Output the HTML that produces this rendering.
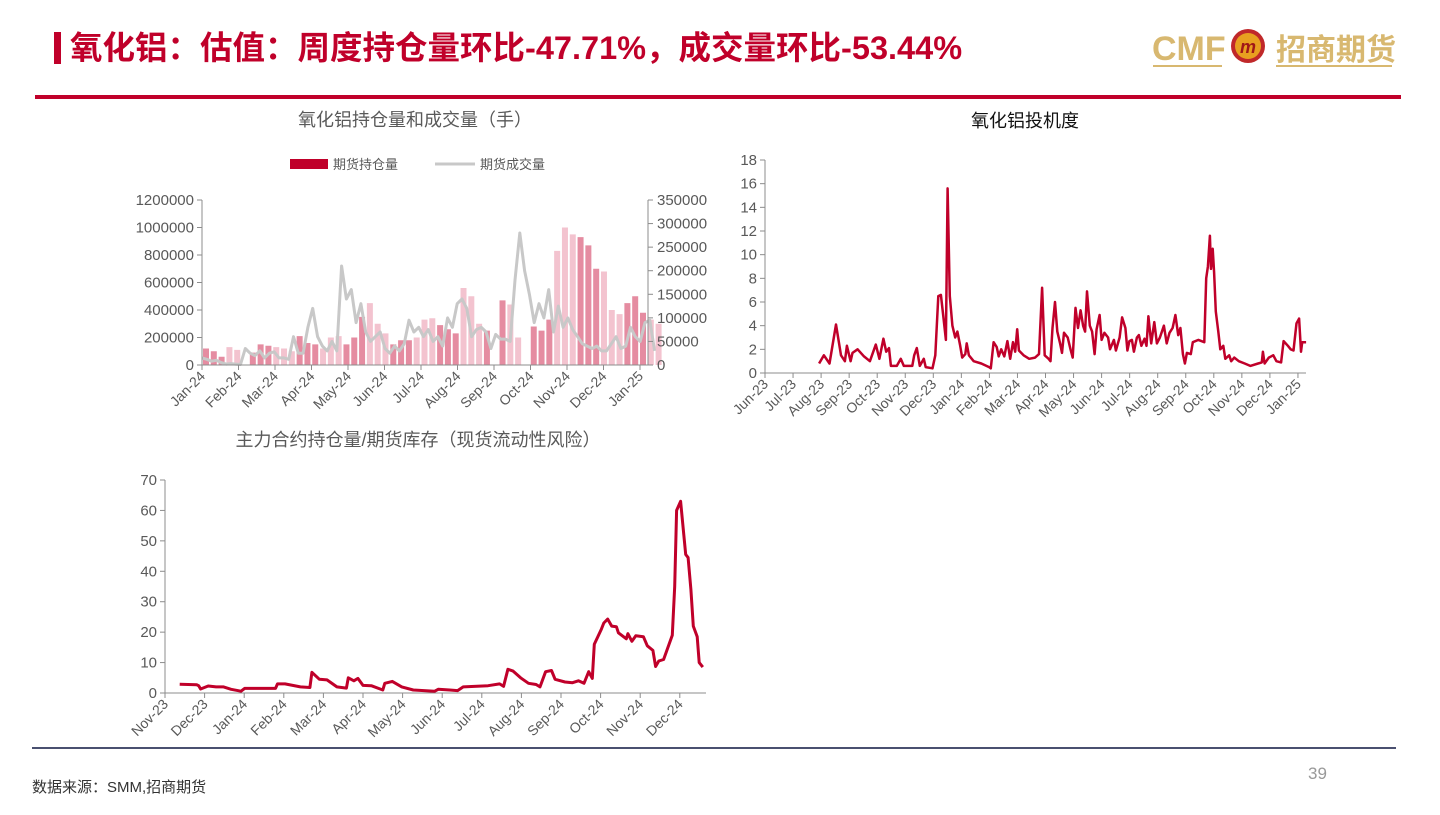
<!DOCTYPE html>
<html><head><meta charset="utf-8">
<style>
html,body{margin:0;padding:0;background:#fff;}
body{width:1440px;height:810px;overflow:hidden;position:relative;font-family:"Liberation Sans","Noto Sans CJK SC",sans-serif;}
svg text{font-family:"Liberation Sans","Noto Sans CJK SC",sans-serif;}
</style></head>
<body>
<svg id="page" width="1440" height="810" viewBox="0 0 1440 810" xmlns="http://www.w3.org/2000/svg">
  <rect x="54" y="32" width="7" height="32" fill="#c0002a"/>
  <text x="70" y="59" font-size="32.5" font-weight="bold" fill="#c0002a">氧化铝：估值：周度持仓量环比-47.71%，成交量环比-53.44%</text>
  <g>
    <text x="1152" y="60" font-size="34" font-weight="bold" fill="#d8b870">CMF</text>
    <line x1="1153" y1="66" x2="1222" y2="66" stroke="#d8b870" stroke-width="2"/>
    <circle cx="1248" cy="46" r="17" fill="#c0282a"/>
    <circle cx="1248" cy="46" r="13" fill="#e8a020"/>
    <text x="1248" y="53" font-size="18" font-weight="bold" fill="#a01818" text-anchor="middle" font-style="italic">m</text>
    <text x="1276" y="60" font-size="30" font-weight="bold" fill="#d8b870" font-family="'Noto Serif CJK SC',serif">招商期货</text>
    <line x1="1276" y1="66" x2="1392" y2="66" stroke="#d8b870" stroke-width="2"/>
  </g>
  <rect x="35" y="95" width="1366" height="4" fill="#c0002a"/>
  <rect x="32" y="747" width="1364" height="2" fill="#4a5070"/>
  <text x="32" y="792" font-size="15" fill="#333" font-family="'Noto Serif CJK SC',serif">数据来源：SMM,招商期货</text>
  <text x="1308" y="779" font-size="17" fill="#999">39</text>

  <text x="415" y="126" font-size="18" fill="#595959" text-anchor="middle">氧化铝持仓量和成交量（手）</text>
  <g>
    <rect x="290" y="159" width="38" height="10" fill="#c0002a"/>
    <text x="333" y="169" font-size="13" fill="#595959" font-family="'Noto Serif CJK SC',serif">期货持仓量</text>
    <line x1="435" y1="164" x2="475" y2="164" stroke="#c8c8c8" stroke-width="3"/>
    <text x="480" y="169" font-size="13" fill="#595959" font-family="'Noto Serif CJK SC',serif">期货成交量</text>
  </g>
  <g id="c1"></g>

  <text x="1025" y="127" font-size="18" fill="#111" text-anchor="middle">氧化铝投机度</text>
  <g id="c2"></g>

  <text x="418" y="446" font-size="18" fill="#595959" text-anchor="middle">主力合约持仓量/期货库存（现货流动性风险）</text>
  <g id="c3"></g>
</svg>
<script>
// ---------- Chart 1 data ----------
const c1Months = ["Jan-24","Feb-24","Mar-24","Apr-24","May-24","Jun-24","Jul-24","Aug-24","Sep-24","Oct-24","Nov-24","Dec-24","Jan-25"];
const c1LeftTicks = [0,200000,400000,600000,800000,1000000,1200000];
const c1RightTicks = [0,50000,100000,150000,200000,250000,300000,350000];
const c1Holdings = [120000,100000,60000,130000,110000, 0,90000,150000,140000, 130000,120000,100000,210000,160000,
  150000,120000,200000,210000, 150000,200000,350000,450000,300000, 230000,150000,180000,180000,
  200000,330000,340000,290000,260000, 230000,560000,500000,300000, 250000,0,470000,440000,200000,
  0,280000,250000,330000,830000, 1000000,950000,930000,870000, 700000,680000,400000,370000,450000,
  500000,380000,330000,300000];
const c1Volume = [15000,12000,8000,10000,5000,2000, 3000,2000,1000,35000,25000,
  20000,30000,15000,25000,28000,15000, 15000,12000,60000,25000,25000,
  80000,120000,60000,40000,30000,50000, 30000,210000,140000,160000,90000,130000,70000,
  50000,60000,70000,35000,25000,40000,30000, 45000,95000,70000,80000,60000,75000,50000,
  60000,40000,100000,80000,130000,140000,120000,60000, 75000,80000,70000,35000,65000,55000,55000,
  50000,180000,280000,200000,150000, 90000,130000,100000,160000,70000,125000,
  80000,100000,75000,60000,45000,40000,35000, 40000,30000,30000,45000,60000,35000,40000,
  80000,60000,50000,90000,95000,30000];
const c1Span = 12.4; // months covered by daily series

// ---------- Chart 2 data ----------
const c2Months = ["Jun-23","Jul-23","Aug-23","Sep-23","Oct-23","Nov-23","Dec-23","Jan-24","Feb-24","Mar-24","Apr-24","May-24","Jun-24","Jul-24","Aug-24","Sep-24","Oct-24","Nov-24","Dec-24","Jan-25"];
const c2Ticks = [0,2,4,6,8,10,12,14,16,18];
const c2Dates = [1.93,2.10,2.30,2.53,2.71,2.85,2.92,3.05,3.12,3.30,3.53,3.74,3.95,4.08,4.22,4.32,4.42,4.49,4.70,4.84,4.95,5.25,5.32,5.41,5.52,5.66,5.73,5.97,6.07,6.18,6.27,6.37,6.45,6.51,6.59,6.68,6.78,6.86,6.96,7.03,7.14,7.19,7.27,7.44,7.71,7.99,8.05,8.15,8.26,8.33,8.42,8.53,8.64,8.74,8.84,8.92,8.99,9.05,9.22,9.42,9.63,9.77,9.88,9.97,10.11,10.18,10.25,10.34,10.42,10.52,10.59,10.66,10.79,10.89,10.97,11.07,11.16,11.25,11.34,11.41,11.48,11.58,11.66,11.75,11.82,11.93,12.00,12.10,12.23,12.30,12.44,12.51,12.64,12.73,12.85,12.92,12.99,13.08,13.15,13.26,13.33,13.42,13.53,13.60,13.67,13.77,13.88,13.97,14.08,14.22,14.32,14.42,14.53,14.63,14.73,14.81,14.90,14.97,15.04,15.18,15.25,15.45,15.66,15.73,15.79,15.86,15.90,15.96,16.01,16.07,16.16,16.23,16.34,16.41,16.55,16.62,16.73,16.89,17.10,17.30,17.58,17.71,17.75,17.81,17.96,18.12,18.23,18.40,18.49,18.64,18.74,18.84,18.95,19.04,19.11,19.15,19.29];
const c2Values = [0.8,1.5,0.8,4.1,1.5,1.0,2.3,1.0,1.7,2.0,1.4,1.0,2.4,1.2,2.9,1.8,2.1,0.6,0.6,1.2,0.6,0.6,1.5,2.1,0.6,1.2,0.5,0.4,1.5,6.5,6.6,4.5,2.8,15.6,6.5,4.0,3.0,3.5,2.3,1.3,1.6,2.5,1.5,1.0,0.8,0.5,0.4,2.6,2.2,1.4,2.0,1.4,2.7,1.2,2.6,1.8,3.7,1.9,1.5,1.2,1.3,1.6,7.2,1.5,1.2,1.0,3.8,6.0,3.5,2.5,1.7,3.4,3.0,2.0,1.3,5.5,3.8,5.3,4.0,3.5,6.9,4.0,3.5,1.6,3.7,4.9,2.8,3.4,3.0,2.0,2.8,1.9,3.0,4.7,3.8,1.9,2.7,2.8,1.8,3.0,3.2,2.3,2.9,2.3,4.8,2.5,4.3,2.5,3.0,4.0,2.5,3.4,3.8,4.9,3.2,3.8,1.6,0.8,1.7,1.6,2.6,2.8,2.6,8.0,9.0,11.6,8.8,10.5,8.5,5.2,3.5,2.0,2.3,1.2,1.5,1.0,1.3,1.0,0.8,0.6,0.8,0.9,1.8,0.8,1.3,1.5,1.0,0.9,2.7,2.3,2.0,1.9,4.2,4.6,1.8,2.6,2.6];

// ---------- Chart 3 data ----------
const c3Months = ["Nov-23","Dec-23","Jan-24","Feb-24","Mar-24","Apr-24","May-24","Jun-24","Jul-24","Aug-24","Sep-24","Oct-24","Nov-24","Dec-24"];
const c3Ticks = [0,10,20,30,40,50,60,70];
const c3Dates = [0.37,0.80,0.85,0.90,1.09,1.29,1.48,1.67,1.92,2.01,2.79,2.84,3.03,3.42,3.66,3.71,3.90,4.09,4.34,4.58,4.63,4.77,4.87,5.00,5.21,5.50,5.55,5.74,5.98,6.27,6.81,6.90,7.19,7.39,7.53,8.16,8.45,8.55,8.66,8.79,8.98,9.18,9.37,9.47,9.61,9.76,9.85,10.10,10.29,10.44,10.58,10.70,10.79,10.84,11.02,11.08,11.18,11.28,11.40,11.45,11.65,11.69,11.79,11.89,12.08,12.18,12.32,12.39,12.47,12.59,12.81,12.87,12.92,13.02,13.10,13.15,13.21,13.28,13.34,13.44,13.49,13.58];
const c3Values = [2.9,2.7,2.4,1.3,2.3,2.0,2.0,1.2,0.6,1.5,1.5,3.0,3.0,2.0,1.8,6.8,4.5,4.3,2.0,1.6,5.0,4.0,4.8,2.5,2.4,1.0,3.2,3.8,2.0,1.0,0.6,1.2,1.0,0.8,2.0,2.4,3.0,2.2,7.8,7.2,5.0,3.2,2.8,2.0,7.0,7.4,4.5,3.6,3.4,4.0,3.2,7.0,4.8,16.0,21.0,23.0,24.3,22.0,21.8,19.8,17.8,19.5,17.0,18.8,18.5,15.5,14.0,8.7,10.5,11.0,19.0,35,60,63,52,45.5,44.5,34,22,18.5,10,8.5];

const NS = "http://www.w3.org/2000/svg";
function mk(parent, tag, attrs){ const e=document.createElementNS(NS,tag); for(const k in attrs) e.setAttribute(k,attrs[k]); parent.appendChild(e); return e; }
const AX = "#8c8c8c", TXT = "#595959";

function monthAxis(g, labels, xf, y0, prefix){
  labels.forEach((m,i)=>{
    const x = xf(i);
    const t = mk(g,'line',{x1:x,y1:y0,x2:x,y2:y0+5,stroke:AX,'stroke-width':1});
    
    
    const l = mk(g,'text',{x:x+4,y:y0+12,'font-size':14,fill:TXT,'text-anchor':'end',transform:`rotate(-45 ${x+4} ${y0+12})`});
    l.textContent = m;
    
    
  });
}
function valueAxis(g, ticks, yf, x, side, prefix){
  ticks.forEach(v=>{
    const y = yf(v);
    const t = mk(g,'line',{x1:side==='left'?x-5:x,y1:y,x2:side==='left'?x:x+5,y2:y,stroke:AX,'stroke-width':1});
    
    
    const l = mk(g,'text',{x:side==='left'?x-8:x+9,y:y+5,'font-size':15,fill:TXT,'text-anchor':side==='left'?'end':'start'});
    l.textContent = v;
    
    
  });
}

// Chart 1
(function(){
  const g = document.getElementById('c1');
  const X0=202, XM=36.5, Y0=365, YT=200, XR=648;
  const xm = i => X0 + i*XM;
  const yl = v => Y0 - v/1200000*(Y0-YT);
  const yr = v => Y0 - v/350000*(Y0-YT);
  const barStep = c1Span*XM/(c1Holdings.length-1);
  c1Holdings.forEach((v,i)=>{
    const x = X0 + 1 + i*barStep;
    const b = mk(g,'rect',{x:x,y:yl(v),width:6,height:Y0-yl(v),fill:(Math.floor(i/3)%2===0)?'#e58ca1':'#f3c3cf'});
    
    
  });
  const volStep = c1Span*XM/(c1Volume.length-1);
  const pts = c1Volume.map((v,i)=>`${(X0+i*volStep).toFixed(1)},${yr(v).toFixed(1)}`).join(' ');
  const p = mk(g,'polyline',{points:pts,fill:'none',stroke:'#c8c8c8','stroke-width':3,'stroke-linejoin':'round'});
  
  
  const a1 = mk(g,'line',{x1:X0,y1:YT,x2:X0,y2:Y0,stroke:AX});
   
  const a2 = mk(g,'line',{x1:XR,y1:YT,x2:XR,y2:Y0,stroke:AX});
   
  const a3 = mk(g,'line',{x1:X0,y1:Y0,x2:XR,y2:Y0,stroke:AX});
   
  valueAxis(g,c1LeftTicks,yl,X0,'left','chart1-left');
  valueAxis(g,c1RightTicks,yr,XR,'right','chart1-right');
  monthAxis(g,c1Months,xm,Y0,'chart1');
})();

// Chart 2
(function(){
  const g = document.getElementById('c2');
  const X0=765, XM=28.05, Y0=373, YT=160, XR=1306;
  const xm = i => X0 + i*XM;
  const y = v => Y0 - v/18*(Y0-YT);
  const a1 = mk(g,'line',{x1:X0,y1:YT,x2:X0,y2:Y0,stroke:AX});
   
  const a2 = mk(g,'line',{x1:X0,y1:Y0,x2:XR,y2:Y0,stroke:AX});
   
  valueAxis(g,c2Ticks,y,X0,'left','chart2');
  monthAxis(g,c2Months,xm,Y0,'chart2');
  const pts = c2Values.map((v,i)=>`${xm(c2Dates[i]).toFixed(1)},${y(v).toFixed(1)}`).join(' ');
  const p = mk(g,'polyline',{points:pts,fill:'none',stroke:'#c0002a','stroke-width':2.5,'stroke-linejoin':'round'});
  
  
})();

// Chart 3
(function(){
  const g = document.getElementById('c3');
  const X0=165, XM=39.6, Y0=693, YT=480, XR=706;
  const xm = i => X0 + i*XM;
  const y = v => Y0 - v/70*(Y0-YT);
  const a1 = mk(g,'line',{x1:X0,y1:YT,x2:X0,y2:Y0,stroke:AX});
   
  const a2 = mk(g,'line',{x1:X0,y1:Y0,x2:XR,y2:Y0,stroke:AX});
   
  valueAxis(g,c3Ticks,y,X0,'left','chart3');
  monthAxis(g,c3Months,xm,Y0,'chart3');
  const pts = c3Values.map((v,i)=>`${xm(c3Dates[i]).toFixed(1)},${y(v).toFixed(1)}`).join(' ');
  const p = mk(g,'polyline',{points:pts,fill:'none',stroke:'#c0002a','stroke-width':3,'stroke-linejoin':'round'});
  
  
})();
</script>
</body></html>
